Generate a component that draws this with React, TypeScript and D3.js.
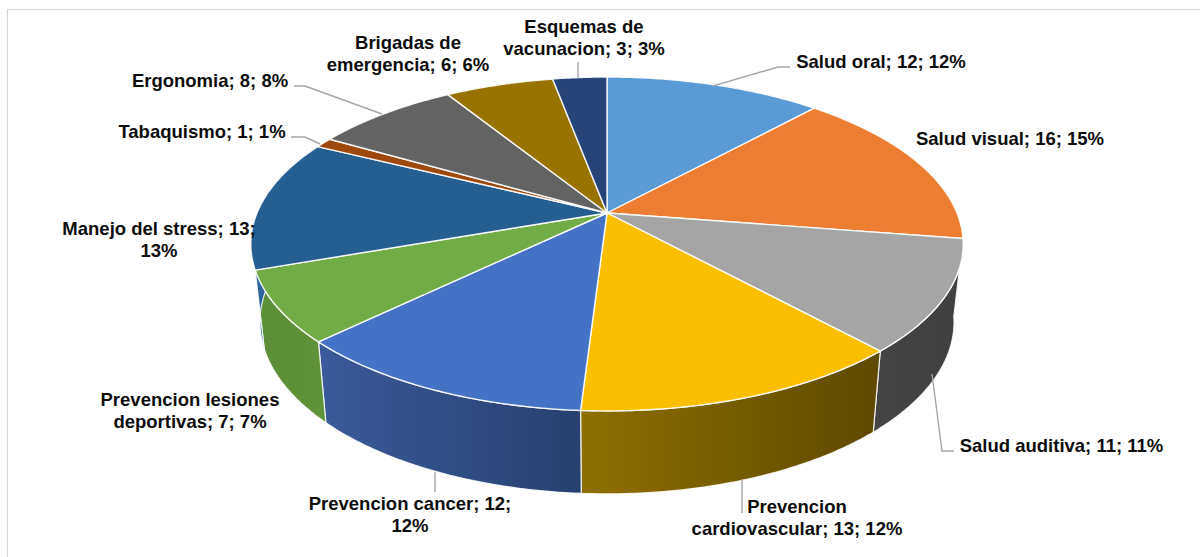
import React from "react";
import * as d3 from "d3";

const categories = ["Salud oral","Salud visual","Salud auditiva","Prevencion cardiovascular","Prevencion cancer","Prevencion lesiones deportivas","Manejo del stress","Tabaquismo","Ergonomia","Brigadas de emergencia","Esquemas de vacunacion"];
const values = [12,16,11,13,12,7,13,1,8,6,3];
const percents = [12,15,11,12,12,7,13,1,8,6,3];
const topColors = ["#5B9BD5","#ED7D31","#A5A5A5","#FBBF00","#4472C4","#70AD47","#255E91","#9E480E","#636363","#997300","#264478"];
const wallFrom = ["#3f6f9f","#a85820","#444444","#8f6f00","#3a5b9b","#5a8f38","#2f6aa5","#6e3209","#444444","#6e5300","#1c3257"];
const wallTo = ["#3f6f9f","#a85820","#404040","#5f4900","#26406f","#5f9339","#1b4469","#6e3209","#444444","#6e5300","#1c3257"];

// label lines per slice, anchor x and first baseline, leader polyline
const labelLines = [
  ["Salud oral; 12; 12%"],["Salud visual; 16; 15%"],["Salud auditiva; 11; 11%"],
  ["Prevencion","cardiovascular; 13; 12%"],["Prevencion cancer; 12;","12%"],
  ["Prevencion lesiones","deportivas; 7; 7%"],["Manejo del stress; 13;","13%"],
  ["Tabaquismo; 1; 1%"],["Ergonomia; 8; 8%"],["Brigadas de","emergencia; 6; 6%"],["Esquemas de","vacunacion; 3; 3%"],
];
const labelX = [881,1010,1061.5,797,410,190,159,202,210,408,584];
const labelY = [68,145,452,513,510,406,235,138,87,49,33];
const leaders: [number,number][][] = [
  [[713,86],[778,67],[790,67]],[],[[932,374],[942,451],[954,451]],
  [[742,480],[742,513]],[[435,472],[435,492]],[],[],
  [[320,144],[305,137],[291,137]],[[382,114],[305,86],[294,86]],[],[[578,78],[578,62]],
];

const W = 1200, H = 557;
const cx = 607, cy = 213, A = 350, B = 161.2, K = 0.1856;
const cyLow = 290, ALow = 341, BLow = 166;
const project = (t: number, ax = A, by = B, c = cy): [number, number] => {
  const u = Math.sin(t), v = -Math.cos(t), d = 1 - K * v;
  return [cx + (ax * u) / d, c + (by * v) / d];
};

const angles = (a0: number, a1: number) => {
  const n = Math.max(2, Math.ceil((a1 - a0) / 0.01));
  return d3.range(n + 1).map((i) => a0 + ((a1 - a0) * i) / n);
};

export default function App() {
  const arcs = d3.pie<number>().sort(null).value((d) => d)(values);
  const line = d3.line();
  return (
    <svg width={W} height={H} viewBox={`0 0 ${W} ${H}`}
      style={{ position: "absolute", left: 0, top: 0, background: "#fff" }}
      fontFamily="'Liberation Sans', Arial, sans-serif">
      <defs>
        {arcs.map((_, i) => (
          <linearGradient key={i} id={`wall${i}`} x1="0" x2="1" y1="0" y2="0">
            <stop offset="0" stopColor={wallFrom[i]} />
            <stop offset="1" stopColor={wallTo[i]} />
          </linearGradient>
        ))}
      </defs>
      <path d="M7.5 557V9.5H1200" fill="none" stroke="#d9d9d9" strokeWidth={1.2} />
      {/* walls */}
      {arcs.map((a, i) => {
        const ts = angles(a.startAngle, a.endAngle);
        const top = ts.map((t) => project(t));
        const bot = ts.map((t) => project(t, ALow, BLow, cyLow)).reverse();
        return (
          <path key={i} d={line([...top, ...bot])! + "Z"} fill={`url(#wall${i})`}
            stroke="#fff" strokeOpacity={0.85} strokeWidth={1.2} strokeLinejoin="round" />
        );
      })}
      {/* tops */}
      {arcs.map((a, i) => {
        const pts = angles(a.startAngle, a.endAngle).map((t) => project(t));
        return (
          <path key={i} d={line([[cx, cy], ...pts])! + "Z"} fill={topColors[i]}
            stroke="#fff" strokeOpacity={0.9} strokeWidth={1.4} strokeLinejoin="round" />
        );
      })}
      {/* leaders */}
      {leaders.map((l, i) =>
        l.length ? <path key={i} d={line(l)!} fill="none" stroke="#a6a6a6" strokeWidth={1.4} /> : null
      )}
      {/* labels */}
      {labelLines.map((ls, i) => (
        <text key={i} aria-label={`${categories[i]}; ${values[i]}; ${percents[i]}%`}
          textAnchor="middle" fontWeight="700" fontSize={18.5} fill="#0d0d0d">
          {ls.map((s, j) => (
            <tspan key={j} x={labelX[i]} y={labelY[i] + j * 21.5}>{s}</tspan>
          ))}
        </text>
      ))}
    </svg>
  );
}
